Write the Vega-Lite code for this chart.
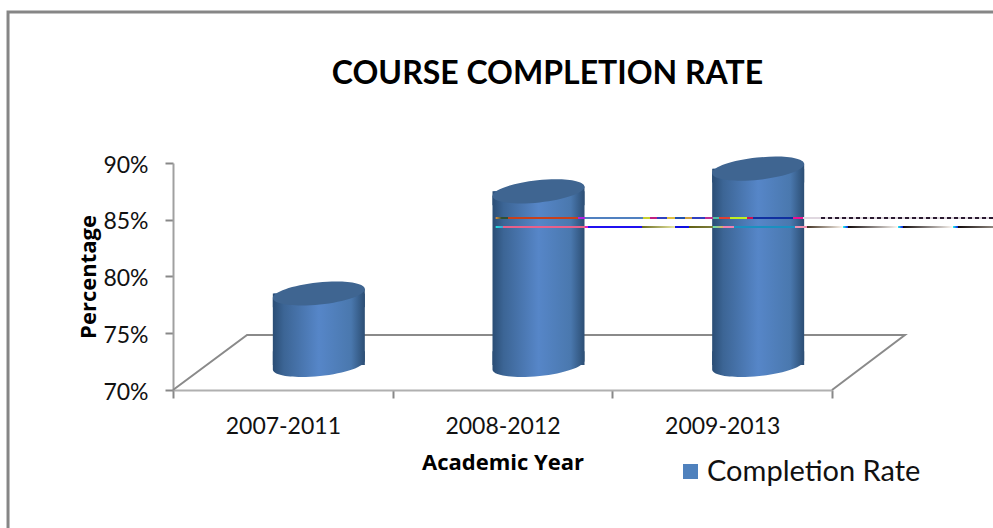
{"$schema":"https://vega.github.io/schema/vega-lite/v6.json","autosize":"none","width":659,"height":227,"padding":{"left":173,"top":163,"right":161,"bottom":138},"background":"white","config":{"view":{"stroke":null},"font":"Lato"},
"title":{"text":"COURSE COMPLETION RATE","font":"Lato","fontSize":32,"fontWeight":"bold","color":"#000000","offset":-85,"dx":45},
"datasets":{"rates":[{"year":"2007-2011","rate":0.763,"base":0.70,"series":"Completion Rate"},{"year":"2008-2012","rate":0.853,"base":0.70,"series":"Completion Rate"},{"year":"2009-2013","rate":0.873,"base":0.70,"series":"Completion Rate"}],
"frame":[{"p":3.733,"v":1.033,"o":1},{"p":-0.751,"v":1.033,"o":2},{"p":-0.751,"v":0.578,"o":3}],
"floor":[{"p":0,"v":0.70,"o":1},{"p":0.337,"v":0.7485,"o":2},{"p":3.332,"v":0.7485,"o":3},{"p":3,"v":0.70,"o":4}]},
"layer":[
{"data":{"name":"frame"},"mark":{"type":"line","stroke":"#868686","strokeWidth":3,"clip":false},"encoding":{"x":{"field":"p","type":"quantitative","scale":{"domain":[0,3]},"axis":null},"y":{"field":"v","type":"quantitative","scale":{"domain":[0.7,0.9]},"axis":null},"order":{"field":"o"}}},
{"data":{"name":"floor"},"mark":{"type":"line","stroke":"#8a8a8a","strokeWidth":2,"clip":false},"encoding":{"x":{"field":"p","type":"quantitative","scale":{"domain":[0,3]},"axis":null},"y":{"field":"v","type":"quantitative","scale":{"domain":[0.7,0.9]},"axis":null},"order":{"field":"o"}}},
{"data":{"name":"rates"},
"encoding":{"x":{"field":"year","type":"nominal","sort":null,"scale":{"paddingInner":0,"paddingOuter":0},"axis":{"title":"Academic Year","titleFont":"Open Sans","titleFontSize":22,"titleFontWeight":"bold","titleColor":"#000","titlePadding":14,"labelAngle":0,"labelFont":"Lato","labelFontSize":23,"labelColor":"#111","labelPadding":17,"tickBand":"extent","tickSize":8,"tickWidth":2,"tickColor":"#888","domainColor":"#b0b0b0","domainWidth":2}},
"y":{"field":"rate","type":"quantitative","scale":{"domain":[0.7,0.9]},"axis":{"title":"Percentage","titleFont":"Open Sans","titleFontSize":22,"titleFontWeight":"bold","titleColor":"#000","titlePadding":2,"values":[0.7,0.75,0.8,0.85,0.9],"format":".0%","grid":false,"labelFont":"Lato","labelFontSize":23,"labelColor":"#111","labelPadding":17,"labelOffset":2,"tickSize":8,"tickWidth":2,"tickColor":"#888","domainColor":"#a0a0a0","domainWidth":2}}},
"layer":[
{"mark":{"type":"bar","width":90,"xOffset":36,"yOffset":-25,"y2Offset":-25},"encoding":{"y2":{"field":"base"},"color":{"field":"series","type":"nominal","scale":{"range":["#4f81bd"]},"legend":{"title":null,"orient":"none","legendX":503,"legendY":294,"symbolType":"square","symbolSize":225,"symbolStrokeWidth":0,"labelFont":"Lato","labelFontSize":29,"labelLimit":400,"labelColor":"#111","labelOffset":2}}}},
{"mark":{"type":"bar","width":92,"xOffset":36,"yOffset":-25,"y2Offset":-25,"fill":{"x1":0,"y1":0,"x2":1,"y2":0,"gradient":"linear","stops":[{"offset":0,"color":"#2a4d75"},{"offset":0.12,"color":"#3c6595"},{"offset":0.5,"color":"#5686c8"},{"offset":0.85,"color":"#4a78ae"},{"offset":1,"color":"#2c4e74"}]}},"encoding":{"y2":{"field":"base"}}},
{"mark":{"type":"point","filled":true,"opacity":1,"shape":"M-1,0.105A1,0.24,-6,0,0,1,-0.105L1,-0.3L-1,-0.3Z","size":8464,"xOffset":36,"yOffset":-25,"fill":{"x1":0,"y1":0,"x2":1,"y2":0,"gradient":"linear","stops":[{"offset":0,"color":"#2a4d75"},{"offset":0.12,"color":"#3c6595"},{"offset":0.5,"color":"#5686c8"},{"offset":0.85,"color":"#4a78ae"},{"offset":1,"color":"#2c4e74"}]}},"encoding":{"y":{"field":"base","type":"quantitative","title":"Percentage"}}},
{"mark":{"type":"point","filled":true,"opacity":1,"shape":"M-1,0.105L1,-0.105L1,0.3L-1,0.3Z","size":8464,"xOffset":36,"yOffset":-25,"fill":{"x1":0,"y1":0,"x2":1,"y2":0,"gradient":"linear","stops":[{"offset":0,"color":"#2a4d75"},{"offset":0.12,"color":"#3c6595"},{"offset":0.5,"color":"#5686c8"},{"offset":0.85,"color":"#4a78ae"},{"offset":1,"color":"#2c4e74"}]}}},
{"mark":{"type":"point","filled":true,"opacity":1,"shape":"M-1,0.105A1,0.24,-6,1,1,1,-0.105A1,0.24,-6,1,1,-1,0.105Z","size":8464,"xOffset":36,"yOffset":-25,"fill":"#3f6591"}}
]},
{"data":{"values":[{"p":1.469,"p2":3.733,"v":0.8524,"v2":0.8506}]},"mark":{"type":"rect","clip":false,"fill":{"x1":0,"y1":0,"x2":1,"y2":0,"gradient":"linear","stops":[{"offset":0,"color":"#e09040"},{"offset":0.012,"color":"#305030"},{"offset":0.0255,"color":"#305030"},{"offset":0.0255,"color":"#c8401a"},{"offset":0.166,"color":"#c8401a"},{"offset":0.166,"color":"#b01ee0"},{"offset":0.18,"color":"#b01ee0"},{"offset":0.18,"color":"#5080c0"},{"offset":0.297,"color":"#5080c0"},{"offset":0.297,"color":"#c8d030"},{"offset":0.31,"color":"#c8d030"},{"offset":0.31,"color":"#c02080"},{"offset":0.325,"color":"#c02080"},{"offset":0.325,"color":"#3040c0"},{"offset":0.345,"color":"#3040c0"},{"offset":0.345,"color":"#e0c040"},{"offset":0.36,"color":"#e0c040"},{"offset":0.36,"color":"#2050b0"},{"offset":0.38,"color":"#2050b0"},{"offset":0.38,"color":"#d0a040"},{"offset":0.395,"color":"#d0a040"},{"offset":0.395,"color":"#3040c0"},{"offset":0.42,"color":"#3040c0"},{"offset":0.42,"color":"#c03090"},{"offset":0.4377,"color":"#c03090"},{"offset":0.4377,"color":"#50c0a0"},{"offset":0.45,"color":"#50c0a0"},{"offset":0.45,"color":"#e04030"},{"offset":0.471,"color":"#e04030"},{"offset":0.471,"color":"#c0f020"},{"offset":0.5047,"color":"#c0f020"},{"offset":0.5047,"color":"#d01050"},{"offset":0.518,"color":"#d01050"},{"offset":0.518,"color":"#1030a0"},{"offset":0.5985,"color":"#1030a0"},{"offset":0.5985,"color":"#f01090"},{"offset":0.6186,"color":"#f01090"},{"offset":0.6186,"color":"#e0d8e0"},{"offset":1,"color":"#e0d8e0"}]}},"encoding":{"x":{"field":"p","type":"quantitative","scale":{"domain":[0,3]},"axis":null},"x2":{"field":"p2"},"y":{"field":"v","type":"quantitative","scale":{"domain":[0.7,0.9]},"axis":null},"y2":{"field":"v2"}}},
{"data":{"values":[{"p":2.95,"p2":3.733,"v":0.8515}]},"mark":{"type":"rule","clip":false,"stroke":"#2a1a30","strokeWidth":2,"strokeDash":[4,3]},"encoding":{"x":{"field":"p","type":"quantitative","scale":{"domain":[0,3]},"axis":null},"x2":{"field":"p2"},"y":{"field":"v","type":"quantitative","scale":{"domain":[0.7,0.9]},"axis":null}}},
{"data":{"values":[{"p":1.469,"p2":3.733,"v":0.8445,"v2":0.8427}]},"mark":{"type":"rect","clip":false,"fill":{"x1":0,"y1":0,"x2":1,"y2":0,"gradient":"linear","stops":[{"offset":0,"color":"#20e0e0"},{"offset":0.015,"color":"#40a0d0"},{"offset":0.015,"color":"#e8608a"},{"offset":0.18,"color":"#e8608a"},{"offset":0.18,"color":"#e020c0"},{"offset":0.186,"color":"#e020c0"},{"offset":0.186,"color":"#2010f0"},{"offset":0.294,"color":"#2010f0"},{"offset":0.294,"color":"#6a6a20"},{"offset":0.36,"color":"#e8e8a0"},{"offset":0.36,"color":"#1010e0"},{"offset":0.388,"color":"#1010e0"},{"offset":0.388,"color":"#605f10"},{"offset":0.4377,"color":"#808040"},{"offset":0.4377,"color":"#60e0b0"},{"offset":0.457,"color":"#e0b060"},{"offset":0.457,"color":"#f080b0"},{"offset":0.479,"color":"#f080b0"},{"offset":0.479,"color":"#1a90c0"},{"offset":0.602,"color":"#1a90c0"},{"offset":0.602,"color":"#f090b0"},{"offset":0.625,"color":"#f090b0"},{"offset":0.625,"color":"#403020"},{"offset":0.699,"color":"#fff8f0"},{"offset":0.699,"color":"#20f0f0"},{"offset":0.709,"color":"#1010e0"},{"offset":0.709,"color":"#100808"},{"offset":0.809,"color":"#fffaf5"},{"offset":0.809,"color":"#20f0f0"},{"offset":0.819,"color":"#1010e0"},{"offset":0.819,"color":"#100808"},{"offset":0.92,"color":"#fffaf5"},{"offset":0.92,"color":"#20f0f0"},{"offset":0.93,"color":"#1010e0"},{"offset":0.93,"color":"#100808"},{"offset":1,"color":"#908880"}]}},"encoding":{"x":{"field":"p","type":"quantitative","scale":{"domain":[0,3]},"axis":null},"x2":{"field":"p2"},"y":{"field":"v","type":"quantitative","scale":{"domain":[0.7,0.9]},"axis":null},"y2":{"field":"v2"}}}
],
"resolve":{"scale":{"x":"independent"},"axis":{"x":"independent","y":"independent"}}}
